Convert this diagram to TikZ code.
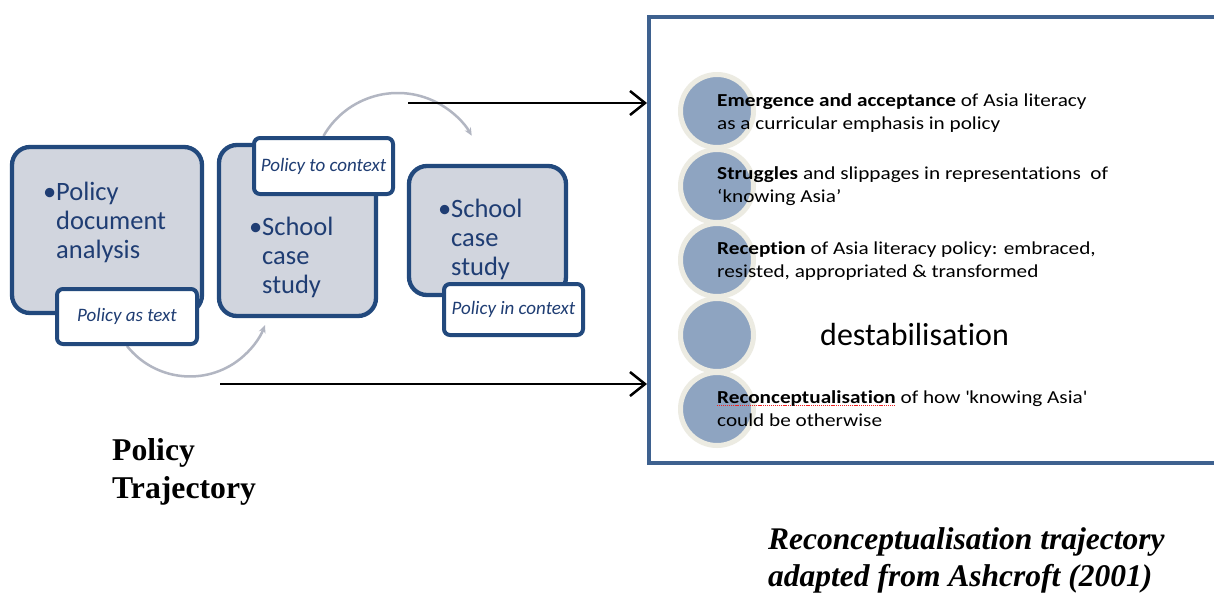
\documentclass[tikz,border=0pt]{standalone}
\usepackage{fontspec}
\setmainfont{Carlito}[Ligatures={TeX,NoCommon}]
\newfontfamily\rfont{Carlito}[FakeStretch=1.16, Ligatures={TeX,NoCommon}]
\newfontfamily\timesf{Liberation Serif}
\usetikzlibrary{arrows.meta,backgrounds}
\definecolor{boxblue}{HTML}{22497D}
\definecolor{boxfill}{HTML}{D1D5DE}
\definecolor{textblue}{HTML}{1F3D73}
\definecolor{arcgray}{HTML}{B2B6C2}
\definecolor{rbblue}{HTML}{3E618F}
\definecolor{circfill}{HTML}{8EA4C1}
\definecolor{ringcol}{HTML}{ECEBE2}
\definecolor{squigred}{HTML}{F02020}
\newsavebox\sqbox
\newcommand\redsquig[1]{\leavevmode\sbox\sqbox{#1}\rlap{\color{squigred}\raisebox{-3.2pt}{\hbox to \wd\sqbox{\xleaders\hbox{\rule{1.1pt}{0.9pt}\kern0.8pt}\hfill}}}\usebox\sqbox}
\tikzset{
  bigbox/.style={draw=boxblue, line width=4.3pt, fill=boxfill, rounded corners=18pt, inner sep=0pt},
  lbl/.style={draw=boxblue, line width=4pt, fill=white, rounded corners=6pt, inner sep=0pt,
    text=textblue, font=\fontsize{19}{22}\selectfont\itshape},
  boxtext/.style={anchor=base west, inner sep=0pt, text=textblue, font=\fontsize{26.5}{29}\selectfont},
  rtext/.style={anchor=base west, inner sep=0pt, text=black, font=\rfont\fontsize{18.3}{23}\selectfont},
  circ/.style={circle, fill=circfill, draw=ringcol, line width=5pt, minimum size=73pt, inner sep=0pt},
  grayarc/.style={draw=arcgray, line width=2.5pt, -{Stealth[length=8pt,width=7pt]}},
  blackarrow/.style={draw=black, line width=2.5pt, -{Straight Barb[length=15pt,width=24pt]}},
  bigtitle/.style={anchor=base west, inner sep=0pt, text=black, font=\timesf\bfseries\fontsize{31.7}{38}\selectfont},
  captiontext/.style={anchor=base west, inner sep=0pt, text=black, font=\timesf\bfseries\itshape\fontsize{31.5}{37}\selectfont}
}
\begin{document}
\begin{tikzpicture}[x=1pt,y=-1pt]
\useasboundingbox (0,0) rectangle (1214,592);

% left flow boxes
\node[bigbox, minimum width=190pt, minimum height=166pt] (b1) at (107,230) {};
\node[bigbox, minimum width=157pt, minimum height=171pt] (b2) at (297.5,230.5) {};
\node[bigbox, minimum width=157pt, minimum height=129pt] (b3) at (487.5,230.5) {};

\node[boxtext] (t1) at (56,200) {\parbox[t]{140pt}{\leavevmode\llap{•}Policy\\document\\analysis}};
\node[boxtext] (t2) at (262,235) {\parbox[t]{110pt}{\leavevmode\llap{•}School\\case\\study}};
\node[boxtext] (t3) at (451,217) {\parbox[t]{110pt}{\leavevmode\llap{•}School\\case\\study}};

\node[lbl, minimum width=140pt, minimum height=55pt] (l1) at (127,316.5) {Policy as text};
\node[lbl, minimum width=139pt, minimum height=56pt] (l2) at (323.5,166) {Policy to context};
\node[lbl, minimum width=139pt, minimum height=51pt] (l3) at (513.5,309.5) {Policy in context};

\begin{scope}[on background layer]
  \fill[white] (0,0) rectangle (1214,592);
  \draw[grayarc] (l1.south) arc[start angle=141.6, end angle=21.1, radius=80.4];
  \draw[grayarc] (l2.north) arc[start angle=209.8, end angle=330, radius=85.5];
\end{scope}

% right panel
\node[draw=rbblue, line width=4pt, minimum width=591pt, minimum height=446pt, inner sep=0pt] (rb) at (944.5,240) {};

\node[circ] (c1) at (717,111) {};
\node[circ] (c2) at (717,186) {};
\node[circ] (c3) at (717,260) {};
\node[circ] (c4) at (717,335) {};
\node[circ] (c5) at (717,409) {};

\node[rtext] (r1) at (717,106) {\parbox[t]{420pt}{\textbf{Emergence and acceptance} of Asia literacy\\as a curricular emphasis in policy}};
\node[rtext] (r2) at (717,179) {\parbox[t]{420pt}{\textbf{Struggles} and slippages in representations\ \ of\\‘knowing Asia’}};
\node[rtext] (r3) at (717,254) {\parbox[t]{420pt}{\textbf{Reception} of Asia literacy policy: embraced,\\resisted, appropriated \& transformed}};
\node[anchor=base west, inner sep=0pt, font=\fontsize{32}{36}\selectfont] (r4) at (820,345) {destabilisation};
\node[rtext] (r5) at (717,403) {\parbox[t]{420pt}{\redsquig{\textbf{Reconceptualisation}} of how \textquotesingle knowing Asia\textquotesingle\\could be otherwise}};

% black arrows into the panel
\coordinate (a1) at (408,103);
\coordinate (a2) at (220,384);
\draw[blackarrow] (a1) -- (a1 -| rb.west);
\draw[blackarrow] (a2) -- (a2 -| rb.west);

% titles
\node[bigtitle] (pt) at (112,460) {\parbox[t]{200pt}{Policy\\Trajectory}};
\node[captiontext] (cap) at (768,549) {\parbox[t]{460pt}{Reconceptualisation trajectory\\adapted from Ashcroft (2001)}};
\end{tikzpicture}
\end{document}
